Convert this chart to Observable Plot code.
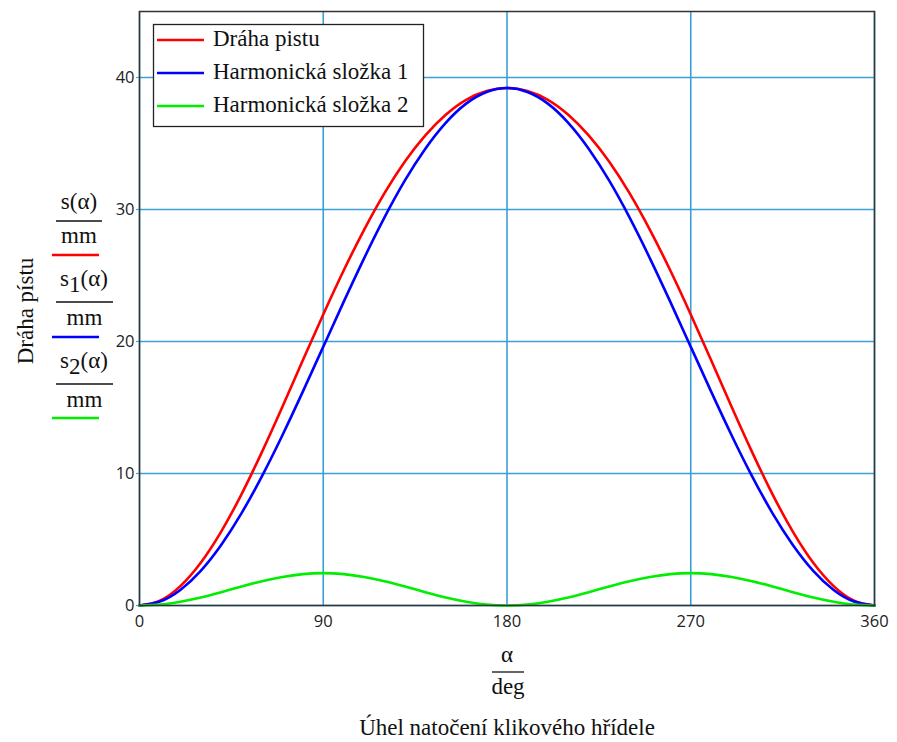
<!DOCTYPE html>
<html><head><meta charset="utf-8">
<script src="https://cdn.jsdelivr.net/npm/d3@7"></script>
<script src="https://cdn.jsdelivr.net/npm/@observablehq/plot@0.6"></script>
<style>
body{margin:0;background:#fff;}
#chart{position:relative;width:897px;height:742px;}
</style>
</head><body><div id="chart"></div>
<script>
// angle α in degrees
const angles = [0,10,20,30,40,50,60,70,80,90,100,110,120,130,140,150,160,170,180,
  190,200,210,220,230,240,250,260,270,280,290,300,310,320,330,340,350,360];
// s(α)/mm – Dráha pístu
const sTotal = [0,0.37,1.47,3.24,5.60,8.44,11.64,15.06,18.58,22.05,25.38,28.46,31.24,33.64,35.62,37.18,38.31,38.97,39.20,
  38.97,38.31,37.18,35.62,33.64,31.24,28.46,25.38,22.05,18.58,15.06,11.64,8.44,5.60,3.24,1.47,0.37,0];
// s1(α)/mm – Harmonická složka 1
const sHarm1 = [0,0.30,1.18,2.63,4.59,7.00,9.80,12.90,16.20,19.60,23.00,26.30,29.40,32.20,34.61,36.57,38.02,38.90,39.20,
  38.90,38.02,36.57,34.61,32.20,29.40,26.30,23.00,19.60,16.20,12.90,9.80,7.00,4.59,2.63,1.18,0.30,0];
// s2(α)/mm – Harmonická složka 2
const sHarm2 = [0,0.07,0.29,0.61,1.01,1.44,1.84,2.16,2.38,2.45,2.38,2.16,1.84,1.44,1.01,0.61,0.29,0.07,0,
  0.07,0.29,0.61,1.01,1.44,1.84,2.16,2.38,2.45,2.38,2.16,1.84,1.44,1.01,0.61,0.29,0.07,0];

const seriesNames = ["Dráha pistu","Harmonická složka 1","Harmonická složka 2"];
const seriesColors = ["#ff0000","#0000ff","#00ee00"];
const seriesValues = [sTotal, sHarm1, sHarm2];
const xTicks = [0,90,180,270,360];
const yTicks = [0,10,20,30,40];

const data = seriesValues.flatMap((vals, i) => angles.map((a, j) => ({a, v: vals[j], s: seriesNames[i]})));

const grid = "#3a9fd6";
const plot = Plot.plot({
  width: 897, height: 742,
  marginLeft: 139, marginRight: 23, marginTop: 11, marginBottom: 137,
  style: {fontFamily: "'Open Sans', sans-serif", fontSize: "16.5px", color: "#222", background: "#fff", overflow: "visible"},
  x: {domain: [0,360]},
  y: {domain: [0,45]},
  color: {domain: seriesNames, range: seriesColors},
  marks: [
    Plot.ruleX(xTicks, {x: d => d, stroke: grid, strokeWidth: 1.6}),
    Plot.ruleY(yTicks, {y: d => d, stroke: grid, strokeWidth: 1.6}),
    Plot.axisX(xTicks, {tickSize: 0, tickPadding: 10, label: null, fill: "#222"}),
    Plot.axisY(yTicks, {tickSize: 3, tickPadding: 2, label: null, stroke: grid, fill: "#222"}),
    Plot.line(data, {x: "a", y: "v", z: "s", stroke: "s", strokeWidth: 2.6, curve: "natural"}),
    Plot.frame({stroke: "#333", strokeWidth: 1.5})
  ]
});
document.getElementById("chart").appendChild(plot);

const svg = d3.select(plot);
const serif = "'Liberation Serif', 'Times New Roman', serif";
const fs = 23;

// Legend
const lg = svg.append("g").attr("text-anchor","start");
lg.append("rect").attr("x",153.5).attr("y",24.5).attr("width",270).attr("height",102)
  .attr("fill","#fff").attr("stroke","#222").attr("stroke-width",1.3);
seriesNames.forEach((n,i) => {
  const yb = [46, 79, 112][i];
  lg.append("line").attr("x1",157).attr("x2",204).attr("y1",yb-6).attr("y2",yb-6)
    .attr("stroke",seriesColors[i]).attr("stroke-width",2.6);
  lg.append("text").attr("x",213).attr("y",yb).attr("text-anchor","start").attr("font-family",serif).attr("font-size",fs)
    .attr("fill","#111").text(n);
});

// Y axis title
svg.append("text").attr("transform","translate(33,311) rotate(-90)").attr("text-anchor","middle")
  .attr("font-family",serif).attr("font-size",fs).attr("fill","#111").text("Dráha pístu");

// Fraction labels for y
const fracs = [
  {num:["s",null,"(α)"], cx:79, base:209, line:221, w:[56,102], mm:243, col:255},
  {num:["s","1","(α)"], cx:84, base:286, line:302, w:[56,113], mm:325, col:337},
  {num:["s","2","(α)"], cx:84, base:368, line:384, w:[56,113], mm:407, col:418}
];
fracs.forEach((f,i) => {
  const t = svg.append("text").attr("x",f.cx).attr("y",f.base).attr("text-anchor","middle")
    .attr("font-family",serif).attr("font-size",fs).attr("fill","#111");
  t.append("tspan").text(f.num[0]);
  if (f.num[1]) {
    t.append("tspan").attr("dy",6).text(f.num[1]);
    t.append("tspan").attr("dy",-6).text(f.num[2]);
  } else t.append("tspan").text(f.num[2]);
  svg.append("line").attr("x1",f.w[0]).attr("x2",f.w[1]).attr("y1",f.line).attr("y2",f.line)
    .attr("stroke","#111").attr("stroke-width",1.3);
  svg.append("text").attr("x",(f.w[0]+f.w[1])/2).attr("y",f.mm).attr("text-anchor","middle")
    .attr("font-family",serif).attr("font-size",fs).attr("fill","#111").text("mm");
  svg.append("line").attr("x1",52).attr("x2",99).attr("y1",f.col).attr("y2",f.col)
    .attr("stroke",seriesColors[i]).attr("stroke-width",2.6);
});

// X fraction and title
svg.append("text").attr("x",507).attr("y",662).attr("text-anchor","middle")
  .attr("font-family",serif).attr("font-size",fs).attr("fill","#111").text("α");
svg.append("line").attr("x1",492).attr("x2",524).attr("y1",672).attr("y2",672)
  .attr("stroke","#111").attr("stroke-width",1.3);
svg.append("text").attr("x",508).attr("y",694).attr("text-anchor","middle")
  .attr("font-family",serif).attr("font-size",fs).attr("fill","#111").text("deg");
svg.append("text").attr("x",507).attr("y",735).attr("text-anchor","middle")
  .attr("font-family",serif).attr("font-size",fs).attr("fill","#111").text("Úhel natočení klikového hřídele");
</script>
</body></html>
